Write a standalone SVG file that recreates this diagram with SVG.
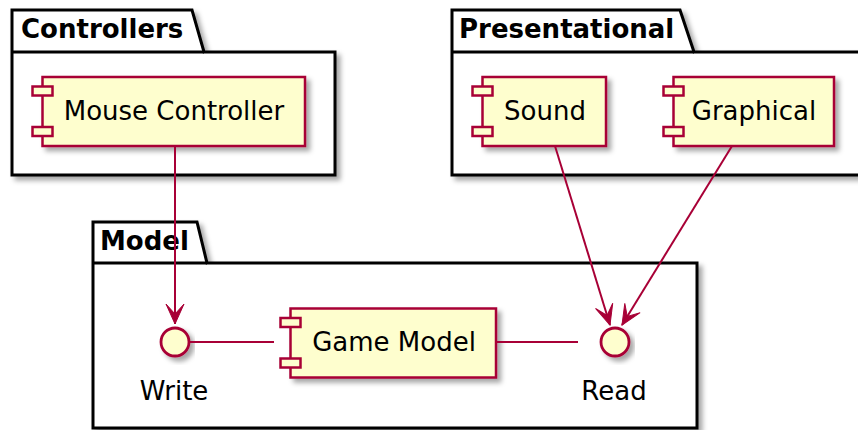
<svg xmlns="http://www.w3.org/2000/svg" width="858" height="430" viewBox="0 0 858 430">
<style>
.pkg{fill:#FFFFFF;stroke:#000000;stroke-width:3;stroke-linejoin:miter}
.pkgline{stroke:#000000;stroke-width:3;fill:none}
.pkgt{font-family:"DejaVu Sans",Verdana,sans-serif;font-weight:bold;font-size:26px;fill:#000000}
.comp{fill:#FEFECE;stroke:#A80036;stroke-width:2.5}
.port{fill:#FEFECE;stroke:#A80036;stroke-width:2.5}
.ct{font-family:"DejaVu Sans",Verdana,sans-serif;font-size:26px;fill:#000000;text-anchor:middle}
.iface{fill:#FEFECE;stroke:#A80036;stroke-width:2.8}
.conn{stroke:#A80036;stroke-width:2;fill:none}
</style>
<defs>
<filter id="sh" x="-10%" y="-10%" width="130%" height="140%">
<feDropShadow dx="4" dy="4" stdDeviation="2.5" flood-color="#000000" flood-opacity="0.35"/>
</filter>
<marker id="arr" viewBox="-21 -11 23 22" refX="0" refY="0" markerWidth="23" markerHeight="22" markerUnits="userSpaceOnUse" orient="auto">
<path d="M0,0 L-20,-9 L-10,0 L-20,9 Z" fill="#A80036" stroke="#A80036" stroke-width="1"/>
</marker>
</defs>
<g id="pkg-controllers">
<path class="pkg" filter="url(#sh)" d="M12,10 L192,10 L204,52 L335,52 L335,175 L12,175 Z"/>
<line class="pkgline" x1="12" y1="52" x2="204" y2="52"/>
<text class="pkgt" x="21" y="37.5">Controllers</text>
</g>
<g id="pkg-presentational">
<path class="pkg" filter="url(#sh)" d="M452,10 L680,10 L694,52 L866,52 L866,175 L452,175 Z"/>
<line class="pkgline" x1="452" y1="52" x2="694" y2="52"/>
<text class="pkgt" x="459" y="37.5">Presentational</text>
</g>
<g id="pkg-model">
<path class="pkg" filter="url(#sh)" d="M93,222 L197,222 L207,263 L697,263 L697,428 L93,428 Z"/>
<line class="pkgline" x1="93" y1="263" x2="207" y2="263"/>
<text class="pkgt" x="100" y="249.5">Model</text>
</g>
<g id="mouse-controller">
<rect class="comp" filter="url(#sh)" x="42.5" y="77" width="262.5" height="69"/>
<rect class="port" x="32.5" y="86.5" width="20" height="9"/>
<rect class="port" x="32.5" y="127" width="20" height="9"/>
<text class="ct" x="174" y="119.5">Mouse Controller</text>
</g>
<g id="sound">
<rect class="comp" filter="url(#sh)" x="482.5" y="77" width="123.5" height="69"/>
<rect class="port" x="472.5" y="86.5" width="20" height="9"/>
<rect class="port" x="472.5" y="127" width="20" height="9"/>
<text class="ct" x="545" y="119.5">Sound</text>
</g>
<g id="graphical">
<rect class="comp" filter="url(#sh)" x="673.5" y="77" width="160.5" height="69"/>
<rect class="port" x="663.5" y="86.5" width="20" height="9"/>
<rect class="port" x="663.5" y="127" width="20" height="9"/>
<text class="ct" x="754" y="119.5">Graphical</text>
</g>
<g id="game-model">
<rect class="comp" filter="url(#sh)" x="290.5" y="308.5" width="205.5" height="69"/>
<rect class="port" x="280.5" y="318" width="20" height="9"/>
<rect class="port" x="280.5" y="358.5" width="20" height="9"/>
<text class="ct" x="394" y="351">Game Model</text>
</g>
<g id="write">
<circle class="iface" filter="url(#sh)" cx="175" cy="342" r="14"/>
<text class="ct" x="174" y="399.5">Write</text>
</g>
<g id="read">
<circle class="iface" filter="url(#sh)" cx="615" cy="342" r="14"/>
<text class="ct" x="614" y="399.5">Read</text>
</g>
<g id="connectors">
<line class="conn" x1="175" y1="146" x2="175" y2="324" marker-end="url(#arr)"/>
<line class="conn" x1="555" y1="146" x2="610" y2="325" marker-end="url(#arr)"/>
<line class="conn" x1="732" y1="146" x2="622" y2="325" marker-end="url(#arr)"/>
<line class="conn" x1="190" y1="342" x2="274" y2="342"/>
<line class="conn" x1="496" y1="342" x2="578" y2="342"/>
</g>
</svg>
